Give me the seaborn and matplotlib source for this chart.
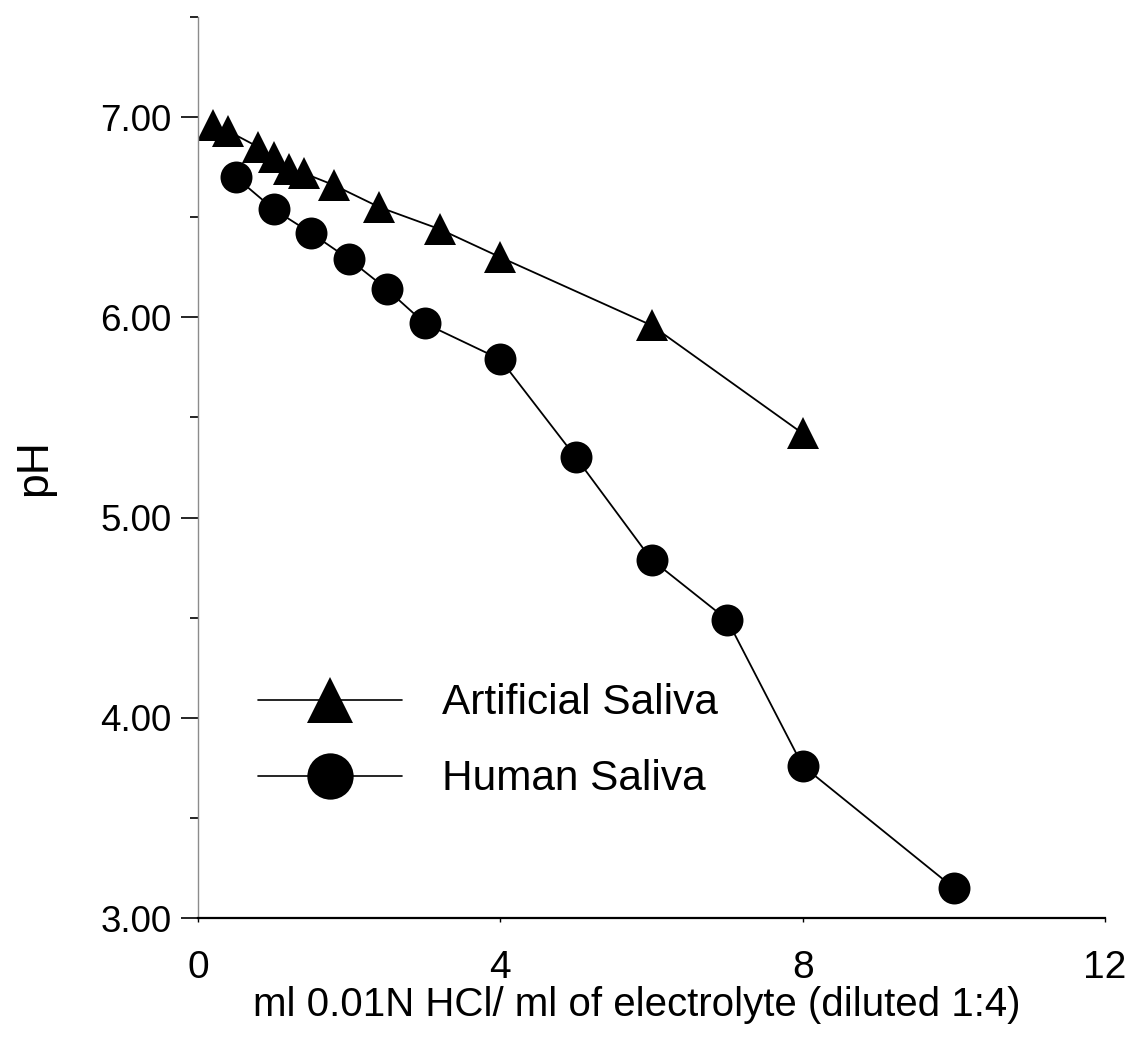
import matplotlib
matplotlib.use("Agg")
import matplotlib.pyplot as plt
import seaborn as sns
import pandas as pd
from matplotlib.ticker import MultipleLocator, FormatStrFormatter

# Data
artificial_x = [0.2, 0.4, 0.8, 1.0, 1.2, 1.4, 1.8, 2.4, 3.2, 4.0, 6.0, 8.0]
artificial_ph = [6.96, 6.93, 6.85, 6.80, 6.74, 6.72, 6.66, 6.55, 6.44, 6.30, 5.96, 5.42]
human_x = [0.5, 1.0, 1.5, 2.0, 2.5, 3.0, 4.0, 5.0, 6.0, 7.0, 8.0, 10.0]
human_ph = [6.70, 6.54, 6.42, 6.29, 6.14, 5.97, 5.79, 5.30, 4.79, 4.49, 3.76, 3.15]
series_names = ["Artificial Saliva", "Human Saliva"]
x_ticks = [0, 4, 8, 12]
y_ticks = [3, 4, 5, 6, 7]
x_label = "ml 0.01N HCl/ ml of electrolyte (diluted 1:4)"
y_label = "pH"

df = pd.concat([
    pd.DataFrame({"x": artificial_x, "pH": artificial_ph, "series": series_names[0]}),
    pd.DataFrame({"x": human_x, "pH": human_ph, "series": series_names[1]}),
], ignore_index=True)

sns.set_style("ticks")
plt.rcParams["font.family"] = ["Liberation Sans", "DejaVu Sans"]
plt.rcParams["text.color"] = "black"
plt.rcParams["axes.labelcolor"] = "black"
plt.rcParams["xtick.color"] = "black"
plt.rcParams["ytick.color"] = "black"

fig = plt.figure(figsize=(11.33, 10.39), dpi=100)
ax = fig.add_axes([198 / 1133, 1 - 918 / 1039, (1105 - 198) / 1133, (918 - 17) / 1039])

sns.lineplot(data=df, x="x", y="pH", hue="series", style="series",
             markers={series_names[0]: "^", series_names[1]: "o"},
             dashes=False, palette={series_names[0]: "black", series_names[1]: "black"},
             markersize=23, markeredgewidth=0, linewidth=1.3, sort=False, ax=ax,
             legend=True)

ax.set_xlim(0, 12)
ax.set_ylim(3, 7.5)
ax.set_xticks(x_ticks)
ax.set_yticks(y_ticks)
ax.yaxis.set_minor_locator(MultipleLocator(0.5))
ax.yaxis.set_major_formatter(FormatStrFormatter("%.2f"))
ax.tick_params(axis="y", which="major", length=12, width=1.2, labelsize=26.5, pad=7)
ax.tick_params(axis="y", which="minor", length=6, width=1.2)
ax.tick_params(axis="x", which="major", length=3, width=1, labelsize=28, pad=20)

sns.despine(ax=ax)
ax.spines["left"].set_color("0.55")
ax.spines["left"].set_linewidth(1.0)
ax.spines["bottom"].set_linewidth(1.6)
ax.spines["bottom"].set_color("black")

ax.set_xlabel(x_label, fontsize=29)
ax.xaxis.set_label_coords(0.484, -0.075)
ax.set_ylabel(y_label, fontsize=32)
ax.yaxis.set_label_coords(-0.158, 0.5)

handles, labels = ax.get_legend_handles_labels()
leg = ax.legend(handles, labels, loc="center left", bbox_to_anchor=(0.066, 0.196),
                frameon=False, fontsize=30.5, handlelength=3.4, handletextpad=0.95,
                labelspacing=0.85, borderpad=0, borderaxespad=0, markerscale=1.45)
for h in leg.legend_handles:
    h.set_linewidth(1.2)

fig.savefig("out.png", dpi=100)
